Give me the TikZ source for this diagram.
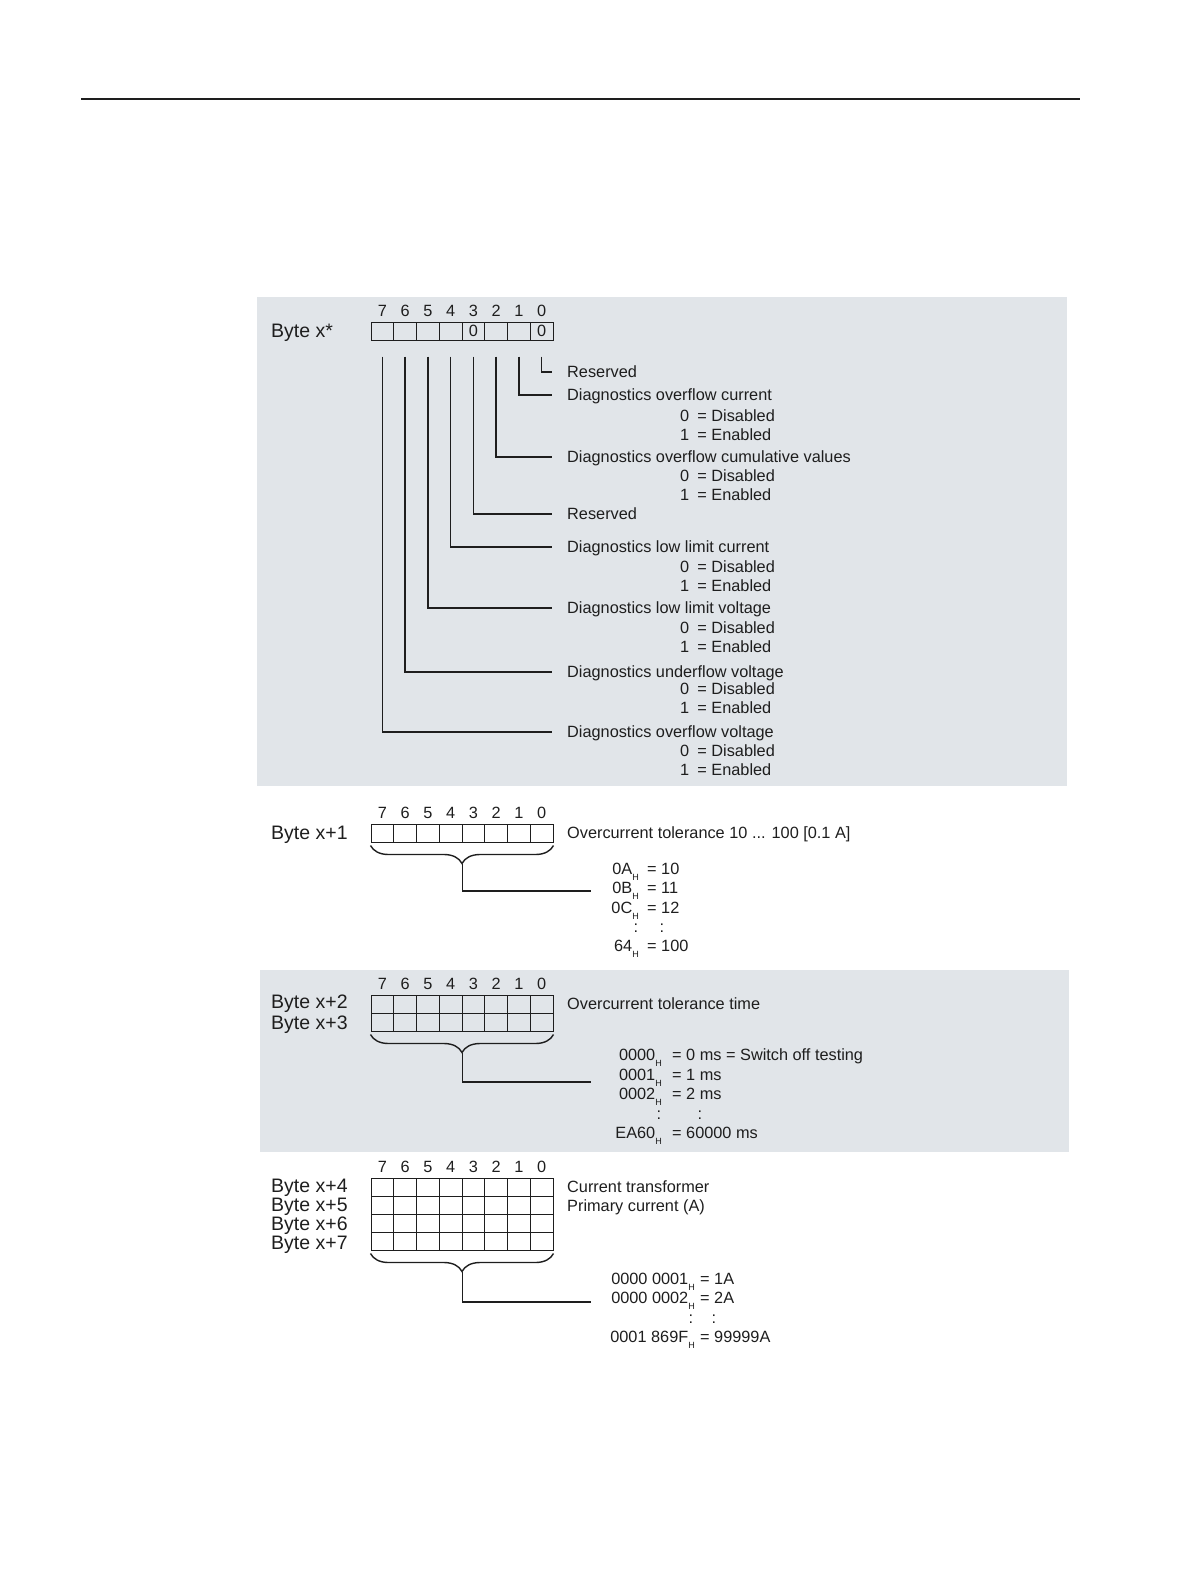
\documentclass[tikz,border=0pt]{standalone}
\usepackage{fontspec}
\setmainfont{Liberation Sans}
\usepackage{tikz}
\usetikzlibrary{positioning, calc, decorations.pathreplacing}
\definecolor{panelgray}{RGB}{225,229,233}
\definecolor{inkdark}{RGB}{30,30,30}
\newcommand\descfont{\fontsize{16.3}{19}\selectfont}
\newcommand\bytefont{\fontsize{19.5}{23}\selectfont}
\newcommand\hexsub{\raisebox{-5.5pt}{\fontsize{9}{10}\selectfont H}}
\tikzset{
  panel/.style={fill=panelgray, draw=none},
  bitcell/.style={rectangle, draw=inkdark, line width=1pt,
    minimum width=22.75pt, minimum height=18pt, inner sep=0pt,
    font=\descfont, text=inkdark},
  bitnum/.style={inner sep=0pt, font=\descfont, text=inkdark,
    text height=11.5pt, text depth=0pt},
  bytelbl/.style={anchor=west, inner sep=0pt, font=\bytefont, text=inkdark,
    text height=14pt, text depth=0pt},
  desc/.style={anchor=west, inner sep=0pt, font=\descfont, text=inkdark,
    text height=11.5pt, text depth=0pt},
  hexkey/.style={desc, anchor=east},
  colon/.style={desc, anchor=center},
  link/.style={line width=1.5pt, color=inkdark},
  bitlink/.style={link, shorten >=15pt},
  bracket/.style={decorate, decoration={brace, mirror, amplitude=18pt},
    line width=1.4pt, color=inkdark},
  rule/.style={line width=1.2pt, color=inkdark}
}

\begin{document}
\begin{tikzpicture}[x=1pt, y=-1pt]
  \useasboundingbox (0,0) rectangle (1191,1587);

  % Page rule and shaded panels
  \draw[rule] (81,99) -- (1080,99);
  \fill[panel] (257,297) rectangle (1067,786);
  \fill[panel] (260,970) rectangle (1069,1152);

  % Byte x*
  \node[bytelbl] (lx) at (271,330) {Byte x*};
  \foreach \b/\v in {7/{},6/{},5/{},4/{},3/0,2/{},1/{},0/0} {
    \node[bitcell] (a-\b) at ({371+(7.5-\b)*22.75},331) {\v};
    \node[bitnum, above=4.5pt of a-\b] (na-\b) {\b};
  }
  \foreach \b/\y/\t in {0/372/Reserved,
                        1/395/Diagnostics overflow current,
                        2/457/Diagnostics overflow cumulative values,
                        3/514/Reserved,
                        4/547/Diagnostics low limit current,
                        5/608/Diagnostics low limit voltage,
                        6/672/Diagnostics underflow voltage,
                        7/732/Diagnostics overflow voltage} {
    \node[desc] (t\b) at (567,\y) {\t};
    \draw[bitlink] ([yshift=-16pt]a-\b.south) |- (t\b.west);
  }
  \foreach \b/\y in {1/416, 2/476, 4/567, 5/628, 6/689, 7/751} {
    \node[desc] (z\b) at (680,\y) {0\enspace= Disabled};
    \node[desc] (o\b) at (680,\y+19) {1\enspace= Enabled};
  }

  % Byte x+1
  \node[bytelbl] (lx1) at (271,832) {Byte x+1};
  \foreach \b in {0,...,7} {
    \node[bitcell] (b-\b) at ({371+(7.5-\b)*22.75},833) {};
    \node[bitnum, above=4.5pt of b-\b] (nb-\b) {\b};
  }
  \node[desc] (tol) at (567,833) {Overcurrent tolerance 10 ... 100 [0.1 A]};
  \draw[bracket] ([yshift=-3pt]b-7.south west) -- ([yshift=-3pt]b-0.south east);
  \coordinate (tipb) at ([yshift=-21pt]b-4.south east);
  \coordinate (endb) at (591,891);
  \draw[link] (tipb) |- (endb);
  \foreach \y/\k/\v [count=\i] in {869/0A/10, 888/0B/11, 908/0C/12, 946/64/100} {
    \node[hexkey] (kb\i) at (639,\y) {\k\hexsub};
    \node[desc] (vb\i) at (647,\y) {= \v};
  }
  \node[colon] (cb1) at (636,927) {:};
  \node[colon] (cb2) at (662,927) {:};

  % Byte x+2 / x+3
  \node[bytelbl] (lx2) at (271,1001) {Byte x+2};
  \node[bytelbl] (lx3) at (271,1022) {Byte x+3};
  \foreach \b in {0,...,7} {
    \node[bitcell] (c1-\b) at ({371+(7.5-\b)*22.75},1004) {};
    \node[bitcell] (c2-\b) at ({371+(7.5-\b)*22.75},1022) {};
    \node[bitnum, above=4.5pt of c1-\b] (nc-\b) {\b};
  }
  \node[desc] (ttime) at (567,1004) {Overcurrent tolerance time};
  \draw[bracket] ([yshift=-3pt]c2-7.south west) -- ([yshift=-3pt]c2-0.south east);
  \coordinate (tipc) at ([yshift=-21pt]c2-4.south east);
  \coordinate (endc) at (591,1082);
  \draw[link] (tipc) |- (endc);
  \foreach \y/\k/\v [count=\i] in {1055/0000/0 ms = Switch off testing,
                                   1075/0001/1 ms, 1094/0002/2 ms,
                                   1133/EA60/60000 ms} {
    \node[hexkey] (kc\i) at (662,\y) {\k\hexsub};
    \node[desc] (vc\i) at (672,\y) {= \v};
  }
  \node[colon] (cc1) at (659,1114) {:};
  \node[colon] (cc2) at (700,1114) {:};

  % Byte x+4 ... x+7
  \foreach \r/\y/\n in {1/1185/4, 2/1204/5, 3/1223/6, 4/1242/7}
    \node[bytelbl] (lx\n) at (271,\y) {Byte x+\n};
  \foreach \r/\y in {1/1187, 2/1205, 3/1223, 4/1241} {
    \foreach \b in {0,...,7}
      \node[bitcell] (d\r-\b) at ({371+(7.5-\b)*22.75},\y) {};
  }
  \foreach \b in {0,...,7}
    \node[bitnum, above=4.5pt of d1-\b] (nd-\b) {\b};
  \node[desc] (ct) at (567,1187) {Current transformer};
  \node[desc] (pc) at (567,1206) {Primary current (A)};
  \draw[bracket] ([yshift=-3pt]d4-7.south west) -- ([yshift=-3pt]d4-0.south east);
  \coordinate (tipd) at ([yshift=-21pt]d4-4.south east);
  \coordinate (endd) at (591,1302);
  \draw[link] (tipd) |- (endd);
  \foreach \y/\k/\v [count=\i] in {1279/0000 0001/1A, 1298/0000 0002/2A,
                                   1337/0001 869F/99999A} {
    \node[hexkey] (kd\i) at (695,\y) {\k\hexsub};
    \node[desc] (vd\i) at (700,\y) {= \v};
  }
  \node[colon] (cd1) at (691,1318) {:};
  \node[colon] (cd2) at (714,1318) {:};
\end{tikzpicture}
\end{document}
